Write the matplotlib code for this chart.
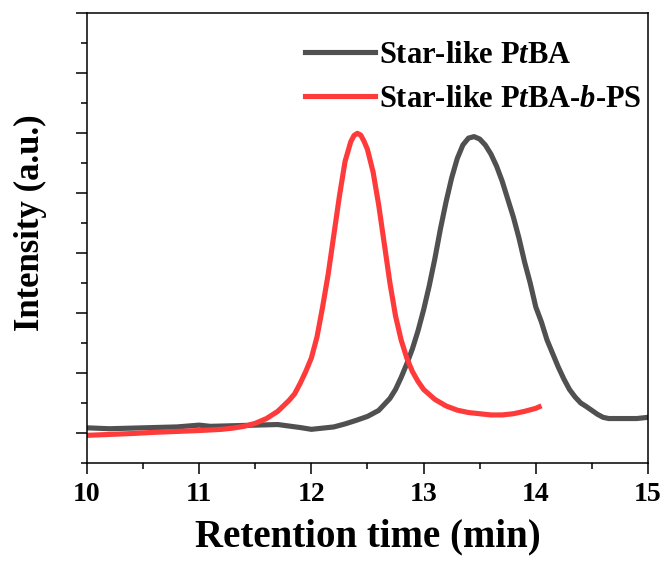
import matplotlib
matplotlib.use('Agg')
import matplotlib.pyplot as plt

plt.rcParams['font.family'] = 'Liberation Serif'
plt.rcParams['font.weight'] = 'bold'
plt.rcParams['mathtext.fontset'] = 'custom'
plt.rcParams['mathtext.rm'] = 'Liberation Serif:bold'
plt.rcParams['mathtext.it'] = 'Liberation Serif:italic:bold'

# GPC traces
t_ptba = [10.00, 10.20, 10.40, 10.60, 10.80, 11.00, 11.10, 11.30, 11.50, 11.70,
          11.90, 12.00, 12.10, 12.20, 12.30, 12.40, 12.50, 12.60, 12.70, 12.75,
          12.80, 12.85, 12.90, 12.95, 13.00, 13.05, 13.10, 13.15, 13.20, 13.25,
          13.30, 13.35, 13.40, 13.45, 13.50, 13.55, 13.60, 13.65, 13.70, 13.75,
          13.80, 13.85, 13.90, 13.95, 14.00, 14.05, 14.10, 14.15, 14.20, 14.25,
          14.30, 14.35, 14.40, 14.45, 14.50, 14.55, 14.60, 14.65, 14.70, 14.80,
          14.90, 15.00]
i_ptba = [0.017, 0.014, 0.016, 0.018, 0.020, 0.026, 0.022, 0.024, 0.026, 0.028,
          0.018, 0.012, 0.016, 0.020, 0.030, 0.042, 0.055, 0.075, 0.115, 0.145,
          0.185, 0.230, 0.280, 0.340, 0.410, 0.490, 0.580, 0.680, 0.770, 0.850,
          0.915, 0.960, 0.983, 0.988, 0.980, 0.960, 0.930, 0.890, 0.840, 0.780,
          0.720, 0.650, 0.570, 0.500, 0.420, 0.370, 0.310, 0.265, 0.220, 0.180,
          0.145, 0.120, 0.100, 0.088, 0.075, 0.062, 0.052, 0.048, 0.048, 0.048,
          0.048, 0.052]

t_ps = [10.00, 10.20, 10.40, 10.60, 10.80, 11.00, 11.20, 11.30, 11.40, 11.50,
        11.60, 11.70, 11.80, 11.85, 11.90, 11.95, 12.00, 12.05, 12.10, 12.15,
        12.20, 12.25, 12.30, 12.35, 12.38, 12.41, 12.44, 12.47, 12.50, 12.55,
        12.60, 12.65, 12.70, 12.75, 12.80, 12.85, 12.90, 12.95, 13.00, 13.10,
        13.20, 13.30, 13.40, 13.50, 13.60, 13.70, 13.80, 13.90, 14.00, 14.03]
i_ps = [-0.008, -0.005, -0.002, 0.002, 0.005, 0.008, 0.012, 0.016, 0.022, 0.032,
        0.048, 0.072, 0.108, 0.130, 0.165, 0.205, 0.250, 0.320, 0.420, 0.530,
        0.660, 0.790, 0.905, 0.970, 0.992, 0.999, 0.993, 0.972, 0.945, 0.870,
        0.760, 0.630, 0.500, 0.390, 0.310, 0.250, 0.205, 0.172, 0.145, 0.112,
        0.090, 0.076, 0.068, 0.064, 0.060, 0.060, 0.064, 0.072, 0.082, 0.087]

labels = [r'Star-like P$t$BA', r'Star-like P$t$BA-$b$-PS']
colors = ['#505050', '#ff3a3a']

fig = plt.figure(figsize=(6.69, 5.68), dpi=100)
ax = fig.add_axes([0.130, 0.185, 0.8386, 0.792])

ax.plot(t_ptba, i_ptba, color=colors[0], lw=3.7, label=labels[0])
ax.plot(t_ps, i_ps, color=colors[1], lw=3.7, label=labels[1])

ax.set_xlim(10, 15)
ax.set_ylim(-0.1, 1.4)
ax.set_xticks([10, 11, 12, 13, 14, 15])
ax.set_xticks([10.5, 11.5, 12.5, 13.5, 14.5], minor=True)
ax.set_yticks([0, 0.2, 0.4, 0.6, 0.8, 1.0, 1.2, 1.4])
ax.set_yticks([-0.1, 0.1, 0.3, 0.5, 0.7, 0.9, 1.1, 1.3], minor=True)
ax.set_yticklabels([])
ax.tick_params(which='major', direction='out', length=8, width=1.1, labelsize=20, pad=6)
ax.tick_params(which='minor', direction='out', length=4.5, width=1.1)
for s in ax.spines.values():
    s.set_linewidth(1.1)

ax.set_xlabel('Retention time (min)', fontsize=28, fontweight='bold', labelpad=8)
ax.set_ylabel('Intensity (a.u.)', fontsize=25, fontweight='bold')
ax.yaxis.set_label_coords(-0.071, 0.533)

ax.legend(loc='upper left', bbox_to_anchor=(0.389, 0.938), frameon=False,
          fontsize=22, handlelength=2.3, handletextpad=0.1, labelspacing=0.48,
          borderaxespad=0, borderpad=0)

fig.savefig('out.png', dpi=100)
